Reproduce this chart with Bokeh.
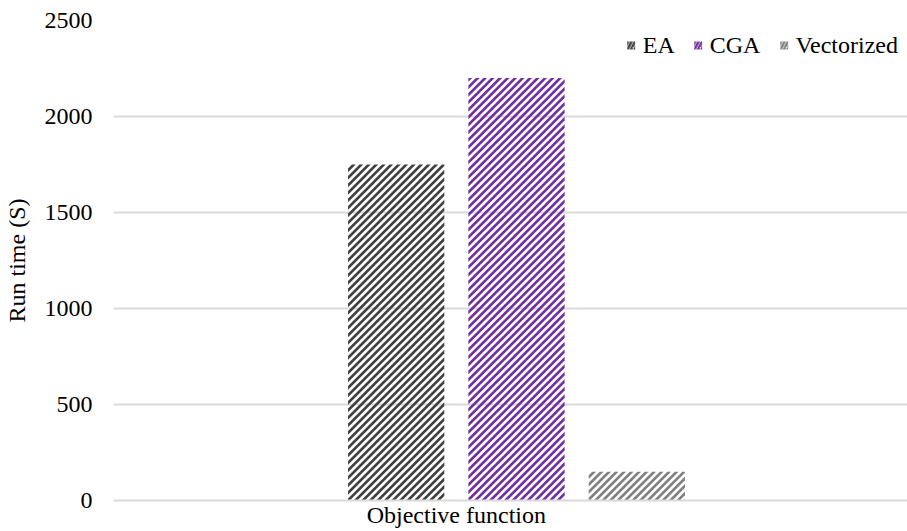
import math
from bokeh.plotting import figure
from bokeh.models import Range1d, FixedTicker, Legend, LegendItem, ColumnDataSource
from bokeh.embed import file_html
from bokeh.resources import INLINE

# ---- data ----
categories = ["Objective function"]
series = ["EA", "CGA", "Vectorized"]
values = [1750, 2200, 150]
colors = ["#404040", "#7030A0", "#808080"]
y_ticks = [0, 500, 1000, 1500, 2000, 2500]

FONT = "Liberation Serif"
FS = "24px"

# frame geometry (pixels) and ranges
FW, FH = 794, 480
XS, XE = -3.35, 3.25
YMAX = 2500
BAR_W = 0.8
PERIOD = 7.5      # horizontal stripe period in px
DUTY = 0.5        # stripe fraction of period

p = figure(frame_width=FW, frame_height=FH, output_backend="svg", toolbar_location=None,
           x_range=Range1d(XS, XE), y_range=Range1d(0, YMAX),
           min_border_left=113, min_border_right=0, min_border_top=20, min_border_bottom=31)
p.outline_line_color = None
p.background_fill_color = "white"
p.border_fill_color = "white"


def clip(poly, f):
    out = []
    n = len(poly)
    for i in range(n):
        P, Q = poly[i], poly[(i + 1) % n]
        fp, fq = f(P), f(Q)
        if fp >= 0:
            out.append(P)
        if (fp >= 0) != (fq >= 0):
            t = fp / (fp - fq)
            out.append((P[0] + t * (Q[0] - P[0]), P[1] + t * (Q[1] - P[1])))
    return out


def stripes_for_bar(xc, top):
    """Upward-diagonal stripe polygons filling the bar, in data units."""
    sx = FW / (XE - XS)
    sy = FH / YMAX
    u0, u1 = (xc - BAR_W / 2 - XS) * sx, (xc + BAR_W / 2 - XS) * sx
    h = top * sy
    rect = [(u0, 0.0), (u1, 0.0), (u1, h), (u0, h)]
    xs, ys = [], []
    k0 = math.floor((u0 - h) / PERIOD) - 1
    k1 = math.ceil(u1 / PERIOD) + 1
    for k in range(k0, k1 + 1):
        c = k * PERIOD
        poly = clip(rect, lambda P, c=c: (P[0] - P[1]) - c)
        poly = clip(poly, lambda P, c=c: (c + PERIOD * DUTY) - (P[0] - P[1]))
        if len(poly) >= 3:
            xs.append([XS + u / sx for u, w in poly])
            ys.append([w / sy for u, w in poly])
    return xs, ys


offsets = [i - 1 for i in range(len(series))]
items = []
for s, v, c, off in zip(series, values, colors, offsets):
    xs, ys = stripes_for_bar(off, v)
    p.patches(xs="xs", ys="ys", source=ColumnDataSource(dict(xs=xs, ys=ys)),
              fill_color=c, line_color=None)
    # zero-height bar used only as the legend swatch
    lg = p.vbar(x=[off], top=[0], width=BAR_W, fill_color="white", line_color=None,
                hatch_pattern="/", hatch_color=c, hatch_scale=7, hatch_weight=2.5)
    items.append(LegendItem(label=s, renderers=[lg]))

legend = Legend(items=items, orientation="horizontal", location="top_right")
legend.border_line_color = None
legend.background_fill_alpha = 0
legend.label_text_font = FONT
legend.label_text_font_size = FS
legend.label_text_color = "#000000"
legend.glyph_width = 10
legend.glyph_height = 10
legend.label_height = 32
legend.label_standoff = 7
legend.spacing = 18
legend.margin = 9
legend.padding = 4
p.add_layout(legend)

# y axis
p.yaxis.ticker = FixedTicker(ticks=y_ticks)
p.yaxis.axis_line_color = None
p.yaxis.major_tick_line_color = None
p.yaxis.minor_tick_line_color = None
p.yaxis.major_tick_out = 0
p.yaxis.major_label_standoff = 21
p.yaxis.major_label_text_font = FONT
p.yaxis.major_label_text_font_size = FS
p.yaxis.major_label_text_color = "#000000"
p.yaxis.axis_label = "Run time (S)"
p.yaxis.axis_label_text_font = FONT
p.yaxis.axis_label_text_font_size = FS
p.yaxis.axis_label_text_font_style = "normal"
p.yaxis.axis_label_text_color = "#000000"
p.yaxis.axis_label_standoff = 12

# x axis: single category label
p.xaxis.ticker = FixedTicker(ticks=[-0.5])
p.xaxis.major_label_overrides = {-0.5: categories[0]}
p.xaxis.axis_line_color = "#d9d9d9"
p.xaxis.axis_line_width = 2
p.xaxis.major_tick_line_color = None
p.xaxis.minor_tick_line_color = None
p.xaxis.major_tick_out = 0
p.xaxis.major_label_standoff = 1
p.xaxis.major_label_text_font = FONT
p.xaxis.major_label_text_font_size = FS
p.xaxis.major_label_text_color = "#000000"

p.xgrid.grid_line_color = None
p.ygrid.grid_line_color = "#d9d9d9"
p.ygrid.grid_line_width = 2

open("out.html", "w").write(file_html(p, INLINE))
